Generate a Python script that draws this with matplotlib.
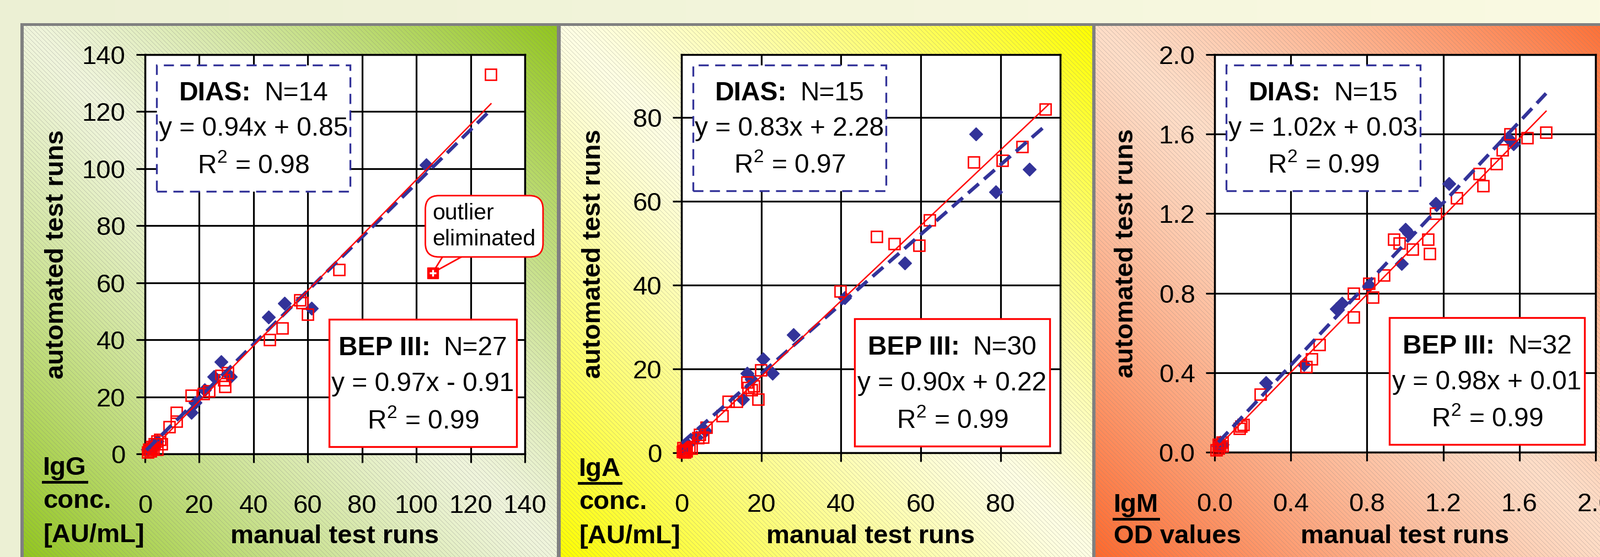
import numpy as np
import matplotlib
matplotlib.use("Agg")
import matplotlib.pyplot as plt
from matplotlib.patches import Rectangle, Polygon
from matplotlib.lines import Line2D

plt.rcParams['font.family'] = ['Liberation Sans', 'DejaVu Sans']
plt.rcParams['mathtext.fontset'] = 'custom'
plt.rcParams['mathtext.rm'] = 'Liberation Sans'
plt.rcParams['mathtext.bf'] = 'Liberation Sans:bold'

# ---------------- data ----------------
# IgG, concentration [AU/mL]
igg_dias_x = [1.0, 2.5, 3.5, 4.5, 17.0, 18.5, 22.0, 25.5, 28.0, 31.5, 45.6, 51.5, 61.4, 103.7]
igg_dias_y = [1.5, 3.0, 2.5, 4.5, 14.5, 18.0, 22.5, 27.0, 32.3, 27.0, 48.0, 52.7, 51.0, 101.4]
igg_bep_x = [1.0, 1.5, 2.0, 2.5, 3.0, 3.5, 4.5, 4.5, 5.5, 6.0, 9.0, 11.5, 11.5, 17.0, 21.5,
             23.5, 28.0, 29.0, 29.5, 30.5, 46.0, 50.5, 57.0, 58.0, 60.0, 71.5, 127.5]
igg_bep_y = [0.5, 1.5, 1.0, 2.5, 2.0, 3.5, 1.5, 4.5, 5.0, 3.5, 9.5, 11.5, 14.5, 20.5, 21.0,
             22.0, 27.5, 26.0, 23.5, 28.5, 40.0, 44.0, 54.0, 53.0, 49.0, 64.5, 133.0]
igg_outlier = [106.0, 63.5]
igg_dias_fit = [0.94, 0.85]
igg_bep_fit = [0.97, -0.91]
igg_dias_span = [0.5, 127.0]
igg_bep_span = [1.0, 127.5]
igg_r2 = [0.98, 0.99]
igg_n = [14, 27]
igg_ticks = [0, 20, 40, 60, 80, 100, 120, 140]

# IgA, concentration [AU/mL]
iga_dias_x = [0.5, 1.5, 3.8, 5.9, 15.4, 16.5, 17.5, 20.5, 22.8, 28.1, 41.0, 56.0, 73.9, 78.8, 87.2]
iga_dias_y = [1.0, 2.0, 3.7, 5.2, 12.8, 19.0, 17.5, 22.4, 19.0, 28.2, 37.0, 45.3, 76.1, 62.3, 67.6]
iga_bep_x = [0.3, 0.4, 0.6, 0.8, 1.0, 1.2, 2.0, 2.5, 4.2, 4.6, 5.4, 6.2, 10.2, 11.7, 13.8,
             16.5, 16.8, 17.5, 18.1, 19.2, 19.9, 39.8, 48.9, 53.4, 59.6, 62.2, 73.3, 80.5, 85.4, 91.2]
iga_bep_y = [0.2, 1.2, 0.5, 0.1, 0.8, 0.4, 1.4, 1.0, 3.5, 4.3, 3.7, 6.1, 8.8, 12.3, 12.3,
             16.8, 15.5, 15.0, 15.9, 12.8, 19.7, 38.5, 51.6, 49.9, 49.5, 55.5, 69.3, 69.7, 73.0, 82.0]
iga_dias_fit = [0.83, 2.28]
iga_bep_fit = [0.90, 0.22]
iga_dias_span = [0.0, 91.0]
iga_bep_span = [0.0, 92.0]
iga_r2 = [0.97, 0.99]
iga_n = [15, 30]
iga_ticks = [0, 20, 40, 60, 80]

# IgM, OD values
igm_dias_x = [0.02, 0.03, 0.04, 0.27, 0.47, 0.64, 0.67, 0.81, 0.98, 1.00, 1.02, 1.16, 1.23, 1.54, 1.57]
igm_dias_y = [0.03, 0.05, 0.04, 0.35, 0.44, 0.72, 0.75, 0.84, 0.95, 1.12, 1.10, 1.25, 1.35, 1.58, 1.55]
igm_bep_x = [0.01, 0.02, 0.02, 0.03, 0.04, 0.04, 0.13, 0.14, 0.15, 0.24, 0.48, 0.51, 0.55, 0.73, 0.73, 0.81,
             0.83, 0.89, 0.94, 0.97, 1.04, 1.12, 1.13, 1.16, 1.27, 1.39, 1.41, 1.48, 1.51, 1.55, 1.64, 1.74]
igm_bep_y = [0.01, 0.02, 0.04, 0.03, 0.03, 0.05, 0.12, 0.13, 0.14, 0.29, 0.43, 0.47, 0.54, 0.68, 0.80, 0.85,
             0.78, 0.89, 1.07, 1.05, 1.02, 1.07, 1.00, 1.20, 1.28, 1.40, 1.34, 1.45, 1.52, 1.60, 1.58, 1.61]
igm_dias_fit = [1.02, 0.03]
igm_bep_fit = [0.98, 0.01]
igm_dias_span = [0.02, 1.74]
igm_bep_span = [0.01, 1.74]
igm_r2 = [0.99, 0.99]
igm_n = [15, 32]
igm_ticks = [0.0, 0.4, 0.8, 1.2, 1.6, 2.0]

W, H = 2902, 1010
BLUE = '#333399'
RED = '#ff0000'
BOXFONT = 34.5


def background():
    r, c = np.mgrid[0:H, 0:W]
    f = (c / (W - 1.0))[..., None]
    img = np.array([236, 240, 212.0]) * (1 - f) + np.array([250, 250, 226.0]) * f
    looks = [(43, 1010, (240, 245, 220), (146, 198, 30)),
             (1017, 1981, (255, 255, 228), (255, 255, 0)),
             (1987, 2954, (255, 222, 200), (255, 105, 45))]
    for x0, x1, pale, strong in looks:
        x1c = min(x1, W)
        cc = c[47:, x0:x1c]
        rr = r[47:, x0:x1c]
        u = (cc - x0) / (x1 - x0)
        v = (rr - 47) / (H - 47.0)
        t = (np.clip(np.abs(u - v), 0, 1) ** 1.25)[..., None]
        col = np.array(pale, float) * (1 - t) + np.array(strong, float) * t
        stripe = (cc - rr) % 8 == 0
        col[stripe] = col[stripe] * 0.6 + 128 * 0.4
        img[47:, x0:x1c] = col
    img[42:47, 37:] = 128
    img[42:, 37:43] = 128
    img[47:, 1010:1017] = 128
    img[47:, 1981:1987] = 128
    return img / 255.0


def eq(fit):
    a, b = fit
    sign = '+' if b >= 0 else '-'
    return 'y = %.2fx %s %.2f' % (a, sign, abs(b))


fig = plt.figure(figsize=(W / 100, H / 100), dpi=100)
bg = fig.add_axes([0, 0, 1, 1])
bg.imshow(background(), aspect='auto', interpolation='nearest')
bg.axis('off')
renderer = fig.canvas.get_renderer()


def mixed_line(ax, xa, ya, bold, regular, size):
    # bold head + regular tail, centred on (xa, ya) in axes fraction
    xp, yp = ax.transAxes.transform((xa, ya))
    tb = fig.text(0, 0, bold, fontsize=size, fontweight='bold', va='baseline', ha='left', zorder=5)
    tr = fig.text(0, 0, regular, fontsize=size, va='baseline', ha='left', zorder=5)
    wb = tb.get_window_extent(renderer).width
    wr = tr.get_window_extent(renderer).width
    gap = 0.5 * size * 100 / 72
    left = xp - (wb + gap + wr) / 2
    tb.set_position((left / W, yp / H))
    tr.set_position(((left + wb + gap) / W, yp / H))


panels = [
    dict(frame=(263, 99, 952, 823), lim=140, ticks=igg_ticks, fmt='%d',
         dias=(igg_dias_x, igg_dias_y), bep=(igg_bep_x, igg_bep_y),
         fits=(igg_dias_fit, igg_bep_fit), spans=(igg_dias_span, igg_bep_span),
         r2=igg_r2, n=igg_n, bep_box=(0.485, 0.018, 0.493, 0.319),
         corner=(78, ['IgG', 'conc.', '[AU/mL]'], [861, 921, 983])),
    dict(frame=(1236, 99, 1923, 821), lim=95, ticks=iga_ticks, fmt='%d',
         dias=(iga_dias_x, iga_dias_y), bep=(iga_bep_x, iga_bep_y),
         fits=(iga_dias_fit, iga_bep_fit), spans=(iga_dias_span, iga_bep_span),
         r2=iga_r2, n=iga_n, bep_box=(0.457, 0.017, 0.515, 0.320),
         corner=(1050, ['IgA', 'conc.', '[AU/mL]'], [863, 923, 985])),
    dict(frame=(2203, 99, 2894, 820), lim=2.0, ticks=igm_ticks, fmt='%.1f',
         dias=(igm_dias_x, igm_dias_y), bep=(igm_bep_x, igm_bep_y),
         fits=(igm_dias_fit, igm_bep_fit), spans=(igm_dias_span, igm_bep_span),
         r2=igm_r2, n=igm_n, bep_box=(0.459, 0.019, 0.512, 0.319),
         corner=(2020, ['IgM', 'OD values'], [928, 985])),
]

axes = []
for p in panels:
    l, t, r, b = p['frame']
    ax = fig.add_axes([l / W, 1 - b / H, (r - l) / W, (b - t) / H])
    axes.append(ax)
    lim = p['lim']
    ax.set_xlim(0, lim)
    ax.set_ylim(0, lim)
    labels = [p['fmt'] % v for v in p['ticks']]
    ax.set_xticks(p['ticks'], labels)
    ax.set_yticks(p['ticks'], labels)
    ax.set_facecolor('white')
    ax.grid(True, color='black', lw=2.3)
    ax.set_axisbelow(True)
    for s in ax.spines.values():
        s.set_linewidth(2.5)
        s.set_color('black')
    ax.tick_params(direction='out', length=11.5, width=2.3, labelsize=34)
    ax.tick_params(axis='x', pad=41)
    ax.tick_params(axis='y', pad=14)

    ax.set_ylabel('automated test runs', fontsize=34, fontweight='bold')
    ax.yaxis.set_label_coords(-0.2, 0.5)
    ax.set_xlabel('manual test runs', fontsize=34, fontweight='bold')
    ax.xaxis.set_label_coords(0.5, (b - 951) / (b - t))

    # points
    ax.plot(p['dias'][0], p['dias'][1], ls='none', marker='D', ms=12.5, color=BLUE,
            mec=BLUE, zorder=4, clip_on=False)
    ax.plot(p['bep'][0], p['bep'][1], ls='none', marker='s', ms=14.5, mfc='none',
            mec=RED, mew=1.9, zorder=4.2, clip_on=False)
    # trend lines
    xs = np.array(p['spans'][0])
    a, c0 = p['fits'][0]
    ax.plot(xs, a * xs + c0, color=BLUE, lw=4.6, ls=(0, (4.0, 2.0)), zorder=4.5)
    xs = np.array(p['spans'][1])
    a, c0 = p['fits'][1]
    ax.plot(xs, a * xs + c0, color=RED, lw=1.8, zorder=5)

    fr_lines = [0.282, 0.562, 0.857]
    # DIAS box
    bx, by, bw, bh = 0.030, 0.658, 0.510, 0.316
    ax.add_patch(Rectangle((bx, by), bw, bh, transform=ax.transAxes, fc='white',
                           ec=BLUE, lw=2.4, ls=(0, (5.5, 3.5)), zorder=3))
    mixed_line(ax, bx + bw / 2, by + bh * (1 - fr_lines[0]), 'DIAS:', 'N=%d' % p['n'][0], BOXFONT)
    for fr, s in zip(fr_lines[1:], [eq(p['fits'][0]), r'R$^2$ = %.2f' % p['r2'][0]]):
        ax.text(bx + bw / 2, by + bh * (1 - fr), s, transform=ax.transAxes,
                ha='center', va='baseline', fontsize=BOXFONT, zorder=6)
    # BEP III box
    bx, by, bw, bh = p['bep_box']
    ax.add_patch(Rectangle((bx, by), bw, bh, transform=ax.transAxes, fc='white',
                           ec=RED, lw=2.4, zorder=3))
    mixed_line(ax, bx + bw / 2, by + bh * (1 - fr_lines[0]), 'BEP III:', 'N=%d' % p['n'][1], BOXFONT)
    for fr, s in zip(fr_lines[1:], [eq(p['fits'][1]), r'R$^2$ = %.2f' % p['r2'][1]]):
        ax.text(bx + bw / 2, by + bh * (1 - fr), s, transform=ax.transAxes,
                ha='center', va='baseline', fontsize=BOXFONT, zorder=6)

    # corner label with underlined isotype
    cx, words, bases = p['corner']
    for i, (w, yb) in enumerate(zip(words, bases)):
        txt = fig.text(cx / W, 1 - yb / H, w, fontsize=34, fontweight='bold',
                       ha='left', va='baseline')
        if i == 0:
            bb = txt.get_window_extent(renderer)
            fig.add_artist(Line2D([bb.x0 / W, bb.x1 / W], [1 - (yb + 13) / H] * 2,
                                  color='black', lw=3.5))

# outlier call-out in the IgG panel
ax = axes[0]
tip = ax.transAxes.inverted().transform(ax.transData.transform(igg_outlier))
ax.add_patch(Polygon([[0.794, 0.51], [0.865, 0.51], tip], closed=True,
                     transform=ax.transAxes, fc='white', ec=RED, lw=2,
                     zorder=6, clip_on=False))
ax.text(0.757, 0.570, 'outlier\neliminated', transform=ax.transAxes, ha='left',
        va='center', fontsize=29.5, linespacing=1.3, zorder=7, clip_on=False,
        bbox=dict(boxstyle='round,pad=0.32,rounding_size=0.6', fc='white', ec=RED, lw=2))
ax.plot([igg_outlier[0]], [igg_outlier[1]], ls='none', marker='s', ms=15,
        color=RED, zorder=8)
ax.plot([igg_outlier[0]], [igg_outlier[1]], ls='none', marker='+', ms=8,
        mew=2.5, color='white', zorder=9)

fig.savefig('out.png', dpi=100)
